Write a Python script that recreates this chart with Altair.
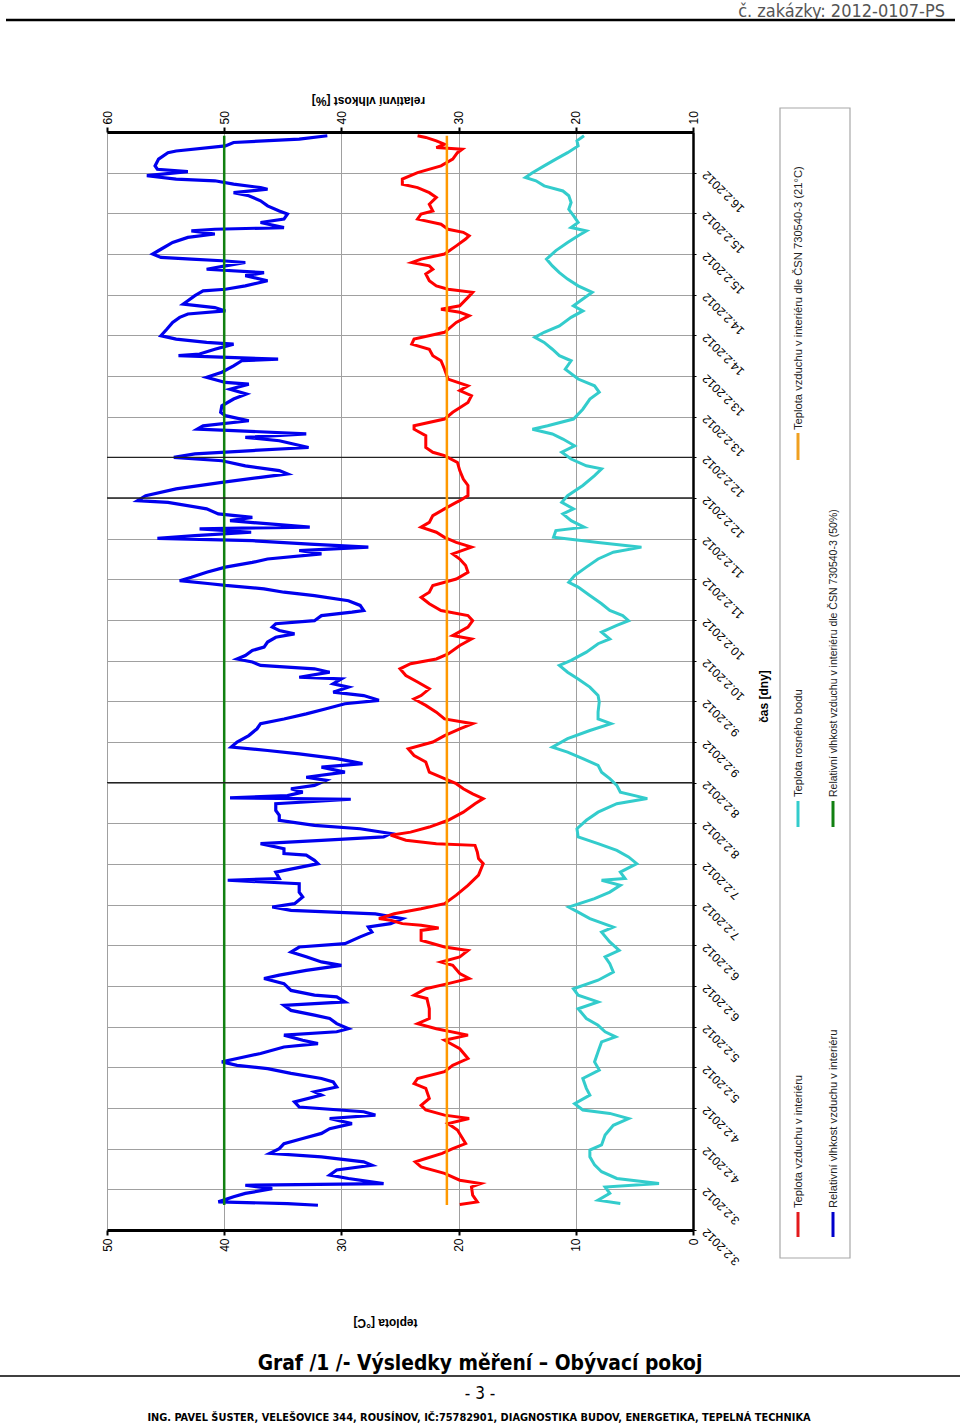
import altair as alt
import pandas as pd

# ---------------- data (hours since 3.2.2012 00:00) -------------
rh_series = [
    (322.9,41.2),(321.9,43.6),(320.9,49.2),(319.9,49.9),(318.4,54.1),(317.9,54.8),(316.0,55.6),(314.0,55.9),
    (313.0,55.7),(312.3,53.1),(311.1,56.6),(310.1,54.1),(309.6,50.8),(308.6,49.2),(307.6,46.9),(307.1,46.3),
    (306.1,49.2),(305.2,47.9),(303.7,46.9),(302.2,46.3),(300.7,45.3),(299.8,44.6),(298.3,44.9),(297.3,46.9),
    (295.8,44.9),(295.3,50.8),(294.8,52.8),(293.9,50.8),(292.9,53.1),(291.4,54.4),(289.4,55.4),(288.0,56.1),
    (287.0,55.4),(286.5,52.8),(286.0,50.2),(285.5,48.2),(284.5,49.9),(283.5,51.5),(282.5,46.6),(281.6,48.2),
    (280.1,46.3),(278.6,48.2),(277.6,49.9),(277.1,51.8),(275.7,52.5),(274.2,53.1),(273.2,53.5),(272.2,50.8),
    (271.2,49.9),(270.3,53.1),(269.3,53.8),(267.8,54.4),(265.8,54.9),(263.9,55.4),(262.9,54.1),(261.9,51.5),
    (261.4,49.2),(259.9,50.8),(258.5,52.1),(258.0,53.9),(257.0,45.4),(256.5,48.5),(255.0,49.2),(253.1,50.2),
    (251.6,51.5),(250.1,49.9),(249.6,47.9),(248.1,49.5),(246.7,48.1),(245.2,49.2),(243.2,50.2),(241.3,50.3),
    (240.3,49.9),(238.8,47.9),(237.3,51.8),(236.3,52.3),(235.9,49.2),(234.9,43.0),(233.9,48.2),(232.9,45.3),
    (230.9,42.8),(230.0,47.6),(229.0,52.5),(228.0,54.3),(227.0,50.2),(225.5,48.2),(224.1,45.3),(223.1,44.6),
    (222.1,46.9),(220.6,50.2),(218.7,54.1),(216.7,56.7),(215.2,57.4),
    (214.7,54.8),(212.8,51.5),(211.3,50.5),(210.3,47.6),(209.3,49.5),(207.4,42.7),(206.9,52.1),(205.9,47.7),
    (204.9,52.5),(204.1,55.7),(203.4,47.6),(202.4,42.7),(201.5,37.7),(200.5,43.6),(199.5,41.7),(198.0,46.3),
    (197.0,47.6),(195.6,49.9),(194.1,51.5),(192.6,52.8),(191.6,53.8),(190.7,51.2),(190.2,49.9),(189.2,46.6),
    (188.2,44.9),(187.2,42.3),(185.7,39.4),(184.3,38.4),(182.8,38.1),(182.3,39.1),(181.3,41.7),(179.8,42.3),
    (178.9,45.6),(177.9,45.9),(176.9,45.3),(175.9,44.0),(174.9,45.6),(173.5,46.3),(172.0,46.6),(171.0,47.6),
    (169.5,48.2),(168.5,48.9),(167.6,47.6),(166.6,46.9),(165.6,42.3),(164.6,41.0),(163.1,43.6),(162.6,40.0),
    (161.2,40.7),(160.2,39.4),(158.7,40.7),(157.7,38.1),(156.3,36.8),(155.3,39.7),(153.8,41.3),(152.3,43.0),
    (150.8,44.9),(149.4,46.9),(147.9,47.2),(145.9,47.9),(144.0,48.9),(142.5,49.4),(141.5,46.3),(140.5,43.6),
    (139.1,40.4),(137.6,38.2),(136.6,41.7),(135.1,39.7),(133.6,43.0),(132.7,41.3),(131.2,42.3),(130.2,44.3),
    (129.2,43.3),(128.2,44.6),(127.5,49.5),(127.1,39.2),(125.8,45.6),(123.8,45.6),(122.4,45.3),(120.9,45.3),
    (119.4,42.3),(118.4,38.4),(117.0,35.8),(116.0,36.4),(115.0,41.7),(114.0,46.9),(112.5,44.9),(111.1,44.9),
    (110.6,43.0),(109.1,42.3),(108.1,42.0),
    (105.6,45.6),(103.7,45.3),(103.2,49.7),(102.2,43.6),(99.7,43.6),(98.3,43.3),(96.3,44.0),(95.3,45.9),
    (94.3,44.3),(93.3,37.1),(91.9,34.8),(90.4,35.8),(89.4,37.7),(87.9,37.4),(86.5,38.4),(84.5,39.7),
    (83.5,43.6),(82.0,44.3),(80.6,43.0),(79.1,41.7),(78.1,40.0),(76.6,43.0),(75.2,45.3),(74.2,46.6),
    (72.7,44.9),(70.7,44.3),(69.3,42.3),(68.8,40.4),(67.3,39.7),(66.3,44.9),(64.8,44.3),(63.4,42.3),
    (62.4,41.0),(60.9,40.4),(59.4,39.4),(58.5,40.4),(57.5,44.9),(56.0,43.3),(55.0,42.0),(54.0,44.9),
    (52.1,46.9),(50.6,48.9),(49.6,50.2),(48.6,48.9),(47.6,46.3),(46.2,44.3),(44.7,41.7),(43.7,40.7),
    (42.2,40.4),(40.8,42.3),(39.8,41.7),(37.8,44.0),(36.3,43.6),(34.9,38.1),(33.9,37.1),(32.9,41.0),
    (31.4,39.1),(29.9,41.0),(28.5,41.7),(27.0,43.3),(25.5,44.9),(24.0,45.3),(22.6,46.1),(21.6,41.7),
    (20.1,38.1),(19.1,37.4),(17.7,40.4),(16.2,41.0),(15.2,39.4),(13.7,36.4),(13.2,48.2),(12.2,45.9),
    (10.8,48.2),(9.8,49.2),(8.3,50.5),(7.8,44.6),(7.3,42.0),
]

temp_series = [
    (322.9,23.5),(322.4,22.8),(321.4,21.9),(320.4,21.2),(319.4,21.9),(318.9,19.7),(317.9,20.1),(316.0,20.5),
    (314.0,21.5),(312.0,23.5),(310.1,24.8),(308.6,24.8),(307.6,23.5),(306.1,22.5),(304.7,21.9),(302.7,22.5),
    (300.7,22.2),(299.8,23.2),(298.3,23.5),(296.8,21.5),(295.3,20.9),(294.4,19.6),(293.4,19.1),(292.4,19.4),
    (290.4,20.2),(288.0,21.2),(286.5,23.2),(285.5,24.0),(284.5,22.5),(283.5,22.2),(282.1,22.8),(280.1,22.5),
    (278.6,21.9),(277.6,20.9),(276.7,18.8),(275.2,19.2),(272.7,19.9),(271.7,21.5),(270.8,19.9),(269.8,19.1),
    (267.8,20.2),(264.9,21.2),(262.9,23.8),(261.4,24.0),(259.9,22.5),(258.0,22.2),(256.5,21.5),(254.0,21.2),
    (251.1,20.9),(249.1,19.2),(247.7,19.9),(246.2,18.9),(244.2,19.2),(241.3,20.5),(239.3,21.2),(237.3,23.8),
    (236.3,23.8),(234.4,22.8),(232.9,22.8),(230.9,22.8),(229.5,22.2),(228.5,21.2),(226.5,20.1),(224.1,19.9),
    (221.6,19.6),(219.7,19.2),(216.7,19.2),(215.2,19.9),
    (214.7,20.2),(212.8,21.2),(210.8,22.2),(208.8,22.5),(207.4,23.2),(205.9,21.9),(204.4,21.2),(202.9,20.2),
    (201.5,18.9),(199.5,20.5),(198.0,19.9),(196.1,19.4),(194.1,19.2),(192.1,20.2),(190.2,22.2),(188.2,22.5),
    (186.7,23.2),(184.8,22.5),(182.8,21.5),(181.3,19.2),(179.8,18.8),(177.9,19.2),(175.4,20.5),(174.4,18.9),
    (172.5,19.9),(170.0,20.9),(168.5,21.9),(167.1,24.1),(165.6,25.0),(163.6,24.5),(161.7,23.5),(159.7,22.5),
    (157.7,23.2),(156.7,23.8),(154.8,22.8),(152.8,21.9),(150.8,21.2),(149.4,18.8),(147.9,19.9),(145.9,21.2),
    (144.0,22.2),(142.0,24.3),(140.0,23.8),(138.1,22.8),(135.1,22.5),(133.2,21.2),(131.7,20.2),(130.2,19.6),
    (128.7,18.8),(127.3,17.9),(125.8,18.6),(123.3,19.6),(120.9,20.9),(118.9,22.5),(117.4,24.1),(116.5,25.8),
    (115.0,24.5),(114.0,21.9),(113.5,18.6),(111.5,18.4),(109.6,18.3),(108.1,17.9),
    (104.7,18.3),(101.7,19.2),(98.8,20.2),(96.3,21.2),(94.8,23.2),(93.3,25.5),(91.9,26.8),(91.4,25.8),
    (90.4,24.8),(89.9,23.2),(89.1,21.7),(88.4,23.2),(85.5,23.2),(83.5,21.2),(82.5,19.2),(80.6,19.9),
    (79.1,21.5),(78.1,20.5),(75.7,19.9),(74.2,19.1),(72.7,20.9),(71.2,22.8),(69.3,23.8),(68.3,22.7),
    (65.3,22.5),(62.4,22.5),(60.9,23.5),(59.4,21.9),(57.5,19.2),(56.0,21.2),(53.5,19.9),(50.6,19.2),
    (48.6,20.5),(46.7,21.2),(44.7,23.5),(43.2,23.8),(41.8,22.8),(38.8,22.5),(36.8,23.2),(35.4,22.8),
    (33.9,21.2),(32.9,19.1),(31.4,20.9),(29.5,20.1),(25.5,19.4),(24.0,20.5),(22.6,21.4),(21.1,22.8),
    (20.1,23.7),(18.6,23.2),(16.7,21.2),(14.7,19.9),(13.7,18.1),(12.7,18.9),(10.3,18.8),(8.3,18.4),(7.5,19.9),
]

dew_series = [
    (322.9,9.3),(321.4,9.9),(319.9,9.8),(317.9,10.7),(316.0,11.7),(314.0,12.7),(312.0,13.7),(310.6,14.3),
    (309.6,13.4),(308.1,12.7),(306.6,11.1),(305.2,10.6),(303.2,10.4),(301.2,10.6),(299.3,10.2),(297.3,9.8),
    (295.8,10.4),(294.8,9.1),(293.4,9.8),(291.4,10.7),(289.0,11.7),(286.5,12.5),(284.5,12.0),(282.5,11.4),
    (280.6,10.7),(278.6,9.8),(276.7,8.6),(274.7,9.4),(272.7,10.2),(271.2,9.4),(269.3,10.4),(266.8,11.4),
    (264.9,12.7),(263.4,13.5),(261.9,12.7),(259.9,12.0),(258.0,11.4),(256.5,10.4),(254.0,10.9),(251.1,9.8),
    (249.1,8.4),(247.2,8.0),(245.2,8.8),(242.2,9.4),(239.3,10.2),(237.3,12.4),(236.3,13.7),(234.9,12.0),
    (233.4,11.1),(231.4,10.1),(229.5,11.2),(227.5,10.4),(225.5,9.1),(224.6,7.8),(222.6,8.4),(219.7,9.4),
    (216.7,10.7),(214.7,11.2),
    (212.8,10.2),(211.3,11.1),(209.3,10.4),(207.4,9.3),(206.4,11.7),(204.4,11.9),(202.9,8.1),(201.5,4.4),
    (200.0,6.8),(198.0,8.1),(195.6,9.1),(193.1,10.1),(191.1,10.6),(189.7,9.8),(187.2,8.8),(184.8,7.8),
    (182.8,7.1),(181.3,6.0),(179.8,5.5),(178.4,6.5),(176.4,7.8),(174.4,7.1),(173.0,8.1),(170.5,9.1),
    (168.1,10.4),(166.6,11.4),(164.6,10.7),(162.6,9.8),(160.2,8.8),(157.7,8.1),(155.8,8.0),(152.8,8.1),
    (150.8,8.1),(149.4,7.0),(147.4,8.8),(145.0,10.7),(142.5,12.0),(141.0,10.7),(139.1,9.4),(137.1,8.1),
    (135.1,7.8),(133.2,7.1),(131.2,6.5),(129.2,6.2),(127.3,3.9),(125.8,6.5),(123.3,8.1),(120.9,9.1),
    (118.4,9.9),(116.0,9.8),(114.0,8.1),(112.0,6.5),(110.1,5.5),(108.1,4.8),
    (105.6,6.2),(103.7,5.8),(103.2,7.8),(101.7,6.2),(99.7,7.1),(97.8,8.4),(95.3,10.6),(93.8,9.8),
    (91.9,8.8),(89.4,6.8),(87.9,7.8),(85.0,7.1),(82.5,6.3),(80.6,7.5),(78.6,7.1),(76.1,6.8),
    (73.7,8.1),(71.2,10.2),(69.3,9.8),(67.3,8.1),(65.3,9.8),(62.4,9.1),(60.4,8.1),(58.5,7.5),
    (57.0,6.6),(55.5,7.8),(52.6,8.1),(49.6,8.4),(47.2,8.0),(44.7,9.4),(41.8,9.1),(39.8,8.8),
    (37.3,10.1),(35.4,9.4),(34.4,7.1),(32.9,5.5),(30.9,6.8),(28.0,7.5),(25.1,7.8),(23.6,8.8),
    (21.6,8.8),(19.2,8.4),(17.2,7.8),(15.2,6.5),(13.7,2.9),(12.7,7.5),(10.8,7.1),(8.8,8.1),(7.8,6.2),
]

norm_temp = 21          # °C, ČSN 730540-3
norm_rh = 50            # %, ČSN 730540-3
norm_span = (7.4, 322.9)  # hours covered by the measurement
time_ticks = list(range(0, 324, 12))
dark_grid_hours = [132, 216, 228]
temp_ticks = [0, 10, 20, 30, 40, 50]
rh_ticks = [10, 20, 30, 40, 50, 60]

legend_labels = {
    "temp": "Teplota vzduchu v interiéru",
    "dew": "Teplota rosného bodu",
    "tnorm": "Teplota vzduchu v interiéru dle ČSN 730540-3 (21°C)",
    "rh": "Relativní vlhkost vzduchu v interiéru",
    "rhnorm": "Relativní vlhkost vzduchu v interiéru dle ČSN 730540-3 (50%)",
}
header_text = "č. zakázky: 2012-0107-PS"
graph_title = "Graf /1 /- Výsledky měření – Obývací pokoj"
page_text = "- 3 -"
footer_text = "ING. PAVEL ŠUSTER, VELEŠOVICE 344, ROUSÍNOV, IČ:75782901, DIAGNOSTIKA BUDOV, ENERGETIKA, TEPELNÁ TECHNIKA"

# ---------------- frames ----------------
rh_df = pd.DataFrame(rh_series, columns=["t", "RH"])
temp_df = pd.DataFrame(temp_series, columns=["t", "T"])
dew_df = pd.DataFrame(dew_series, columns=["t", "T"])
tnorm_df = pd.DataFrame({"T": [norm_temp], "t0": [norm_span[0]], "t1": [norm_span[1]]})
rhnorm_df = pd.DataFrame({"RH": [norm_rh], "t0": [norm_span[0]], "t1": [norm_span[1]]})
dark_df = pd.DataFrame({"t": dark_grid_hours})
one = pd.DataFrame({"a": [0]})

# ---------------- layout ----------------
W, H = 586, 1098
LEFT, TOP = 107, 132
def ax(X):
    return X - LEFT
def ay(Y):
    return Y - TOP

FONT = "Liberation Sans, Arial, sans-serif"
NARROW = "Liberation Sans Narrow, DejaVu Sans Condensed, sans-serif"

temp_scale = alt.Scale(domain=[0, 50], reverse=True, nice=False, zero=False)
rh_scale = alt.Scale(domain=[10, 60], reverse=True, nice=False, zero=False)
t_scale = alt.Scale(domain=[0, 324], nice=False, zero=False)

temp_axis = alt.Axis(orient="bottom", values=temp_ticks, format="d", labelAngle=270,
                     labelAlign="right", labelBaseline="middle", labelPadding=3,
                     labelFont=FONT, labelFontSize=12, labelColor="#000",
                     domainColor="#000", domainWidth=3, tickColor="#000", tickWidth=2, tickSize=5,
                     grid=True, gridColor="#a0a0a0", gridWidth=1,
                     title="teplota [°C]", titleAngle=180, titleX=278, titleY=92,
                     titleAlign="center", titleBaseline="middle",
                     titleFont=FONT, titleFontSize=12, titleFontWeight="bold", titleColor="#000")
rh_axis = alt.Axis(orient="top", values=rh_ticks, format="d", labelAngle=270,
                   labelAlign="left", labelBaseline="middle", labelPadding=3,
                   labelFont=FONT, labelFontSize=12, labelColor="#000",
                   domainColor="#000", domainWidth=3, tickColor="#000", tickWidth=2, tickSize=5,
                   grid=False,
                   title="relativní vlhkost [%]", titleAngle=180, titleX=261, titleY=-32,
                   titleAlign="center", titleBaseline="middle",
                   titleFont=FONT, titleFontSize=12, titleFontWeight="bold", titleColor="#000")
t_axis = alt.Axis(orient="right", values=time_ticks,
                  labelExpr="(floor(datum.value / 24) + 3) + '.2.2012'",
                  labelAngle=225, labelAlign="right", labelBaseline="middle", labelPadding=8,
                  labelOverlap=False, labelBound=False, labelFlush=False,
                  labelFont=FONT, labelFontSize=12, labelColor="#000",
                  domainColor="#000", domainWidth=2.5, tickColor="#000", tickWidth=1, tickSize=3,
                  grid=True, gridColor="#a0a0a0", gridWidth=1,
                  title="čas [dny]", titleAngle=270, titleX=70, titleY=564,
                  titleAlign="center", titleBaseline="middle",
                  titleFont=FONT, titleFontSize=12, titleFontWeight="bold", titleColor="#000")

Y = alt.Y("t:Q", scale=t_scale, axis=t_axis)
Y0 = alt.Y("t0:Q", scale=t_scale, axis=t_axis)

dark = alt.Chart(dark_df).mark_rule(color="#222", strokeWidth=1.3).encode(y=Y)

red = alt.Chart(temp_df).mark_line(color="#ff0000", strokeWidth=3).encode(
    x=alt.X("T:Q", scale=temp_scale, axis=temp_axis), y=Y, order=alt.Order("t:Q"))
cyan = alt.Chart(dew_df).mark_line(color="#33cccc", strokeWidth=3).encode(
    x=alt.X("T:Q", scale=temp_scale, axis=temp_axis), y=Y, order=alt.Order("t:Q"))
orange = alt.Chart(tnorm_df).mark_rule(color="#ff9900", strokeWidth=2.5).encode(
    x=alt.X("T:Q", scale=temp_scale, axis=temp_axis), y=Y0, y2="t1:Q")

blue = alt.Chart(rh_df).mark_line(color="#0000ee", strokeWidth=3.2).encode(
    x=alt.X("RH:Q", scale=rh_scale, axis=rh_axis), y=Y, order=alt.Order("t:Q"))
green = alt.Chart(rhnorm_df).mark_rule(color="#118011", strokeWidth=2.5).encode(
    x=alt.X("RH:Q", scale=rh_scale, axis=rh_axis), y=Y0, y2="t1:Q")

# ---------------- annotations (page texts, rotated legend) ----------------
def txt(text, X, Yp, size, font=FONT, weight="normal", align="center", angle=0, color="#000", baseline="alphabetic"):
    return alt.Chart(one).mark_text(text=text, font=font, fontSize=size, fontWeight=weight, align=align,
                                     angle=angle, color=color, baseline=baseline).encode(
        x=alt.value(ax(X)), y=alt.value(ay(Yp)))

def hline(X1, X2, Yp, width, color="#000"):
    return alt.Chart(one).mark_rule(color=color, strokeWidth=width).encode(
        x=alt.value(ax(X1)), x2=alt.value(ax(X2)), y=alt.value(ay(Yp)))

def vseg(X, Y1, Y2, color, width=3):
    return alt.Chart(one).mark_rule(color=color, strokeWidth=width).encode(
        x=alt.value(ax(X)), y=alt.value(ay(Y1)), y2=alt.value(ay(Y2)))

legend_box = alt.Chart(one).mark_rect(fill="#ffffff", fillOpacity=0, stroke="#a8a8a8", strokeWidth=1.2).encode(
    x=alt.value(ax(780)), x2=alt.value(ax(850)), y=alt.value(ay(108)), y2=alt.value(ay(1258)))

LEG = 11.2
legend_layers = [
    legend_box,
    vseg(798, 1212, 1237, "#e31a1c"),
    txt(legend_labels["temp"], 799, 1208, LEG, align="left", angle=270, baseline="middle", color="#222"),
    vseg(798, 801, 827, "#33cccc"),
    txt(legend_labels["dew"], 799, 797, LEG, align="left", angle=270, baseline="middle", color="#222"),
    vseg(798, 433, 460, "#f0a020"),
    txt(legend_labels["tnorm"], 799, 430, LEG, align="left", angle=270, baseline="middle", color="#222"),
    vseg(833, 1212, 1237, "#0000cc"),
    txt(legend_labels["rh"], 834, 1208, LEG, align="left", angle=270, baseline="middle", color="#222"),
    vseg(833, 801, 827, "#118011"),
    txt(legend_labels["rhnorm"], 834, 797, 10.5, align="left", angle=270, baseline="middle", color="#222"),
]

page_layers = [
    txt(header_text, 945, 17, 18, font=NARROW, align="right", color="#555"),
    hline(6, 955, 20, 2.5),
    txt(graph_title, 480, 1370, 20.8, font=NARROW, weight="bold"),
    hline(0, 960, 1376, 1.5),
    txt(page_text, 480, 1399, 17, font=NARROW),
    txt(footer_text, 479, 1421, 10.9, font=NARROW, weight="bold"),
]

temp_group = alt.layer(dark, red, cyan, orange, *legend_layers, *page_layers)
rh_group = alt.layer(blue, green)

chart = alt.layer(rh_group, temp_group).resolve_scale(x="independent").properties(
    width=W, height=H,
    autosize=alt.AutoSizeParams(type="none"),
    padding={"left": LEFT, "top": TOP, "right": 960 - LEFT - W, "bottom": 1424 - TOP - H},
    background="#ffffff",
).configure_view(stroke="#555", strokeWidth=1)

chart.save("out.html", embed_options={"renderer": "svg", "actions": False})
